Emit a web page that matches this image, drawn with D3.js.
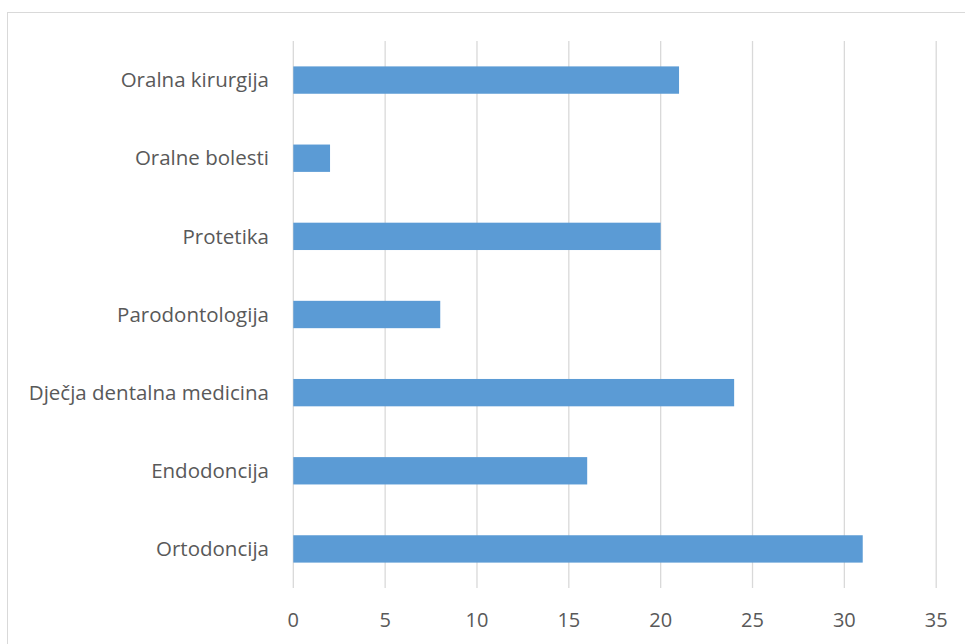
<!DOCTYPE html>
<html>
<head>
<meta charset="utf-8">
<script src="https://cdn.jsdelivr.net/npm/d3@7"></script>
<style>
  body { margin: 0; background: #fff; }
  svg text { font-family: "Open Sans", sans-serif; fill: #595959; }
</style>
</head>
<body>
<div id="chart"></div>
<script>
var categories = ["Oralna kirurgija", "Oralne bolesti", "Protetika", "Parodontologija", "Dječja dentalna medicina", "Endodoncija", "Ortodoncija"];
var values = [21, 2, 20, 8, 24, 16, 31];
var ticks = [0, 5, 10, 15, 20, 25, 30, 35];

var w = 965;
var h = 644;

var svg = d3.select("#chart")
      .append("svg")
      .attr("width", w)
      .attr("height", h);

// chart frame
svg.append("rect")
  .attr("x", 7.5)
  .attr("y", 12.5)
  .attr("width", 970)
  .attr("height", 700)
  .attr("fill", "none")
  .attr("stroke", "#d9d9d9")
  .attr("stroke-width", 1);

var x = d3.scaleLinear()
  .domain([0, 35])
  .range([293.3, 936.2]);

var y = d3.scaleBand()
  .domain(categories)
  .range([41, 588])
  .paddingInner(0.65)
  .paddingOuter(0.325);

// gridlines
svg.selectAll("line.grid")
  .data(ticks)
  .enter()
  .append("line")
   .attr("class", "grid")
   .attr("x1", function(d) { return x(d); })
   .attr("x2", function(d) { return x(d); })
   .attr("y1", 41)
   .attr("y2", 588)
   .attr("stroke", "#d9d9d9")
   .attr("stroke-width", 1.3);

svg.selectAll("rect.bar")
  .data(categories)
  .enter()
  .append("rect")
   .attr("class", "bar")
   .attr("x", x(0))
   .attr("y", function(d) { return y(d); })
   .attr("width", function(d, i) { return x(values[i]) - x(0); })
   .attr("height", y.bandwidth())
   .attr("fill", "#5b9bd5");

// category labels
svg.selectAll("text.cat")
  .data(categories)
  .enter()
  .append("text")
   .attr("class", "cat")
   .text(function(d) { return d; })
   .attr("x", 269)
   .attr("y", function(d) { return y(d) + y.bandwidth() / 2; })
   .attr("dy", "0.35em")
   .attr("text-anchor", "end")
   .attr("font-size", "20.5px");

// x tick labels
svg.selectAll("text.tick")
  .data(ticks)
  .enter()
  .append("text")
   .attr("class", "tick")
   .text(function(d) { return d; })
   .attr("x", function(d) { return x(d); })
   .attr("y", 620)
   .attr("dy", "0.35em")
   .attr("text-anchor", "middle")
   .attr("font-size", "20px");
</script>
</body>
</html>
